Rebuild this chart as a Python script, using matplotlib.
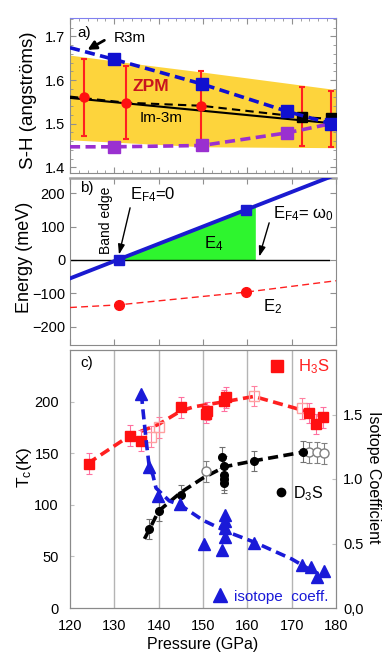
import matplotlib
matplotlib.use('Agg')
import matplotlib.pyplot as plt
import numpy as np
from matplotlib.lines import Line2D
from matplotlib.ticker import MultipleLocator

plt.rcParams['font.family'] = ['Liberation Sans', 'DejaVu Sans']
plt.rcParams['mathtext.fontset'] = 'custom'
plt.rcParams['mathtext.rm'] = 'Liberation Sans'
plt.rcParams['mathtext.it'] = 'Liberation Sans:italic'

# ---------------- Panel a data ----------------
band_p = [120, 135, 150, 180]
band_lo = [1.463, 1.455, 1.447, 1.445]
band_hi = [1.657, 1.637, 1.618, 1.578]

r3m_line_p = [120, 130, 149.7, 169, 178.9]
r3m_line_v = [1.674, 1.647, 1.591, 1.528, 1.500]
r3m_sq_p = [130, 149.7, 169, 178.9]
r3m_sq_v = [1.647, 1.591, 1.528, 1.500]

low_line_p = [120, 130, 149.7, 169, 178.9]
low_line_v = [1.447, 1.447, 1.450, 1.479, 1.500]
low_sq_p = [130, 149.7, 169]
low_sq_v = [1.447, 1.450, 1.479]

im3m_solid_p = [120, 180]
im3m_solid_v = [1.559, 1.500]
im3m_dash_p = [120, 132.7, 149.6, 172.3, 178.9]
im3m_dash_v = [1.562, 1.548, 1.541, 1.515, 1.511]
im3m_sq_p = [172.3, 178.9]
im3m_sq_v = [1.515, 1.512]

zpm_p = [123.2, 132.7, 149.6, 172.3, 178.9]
zpm_v = [1.560, 1.547, 1.540, 1.515, 1.510]
zpm_hi = [1.649, 1.631, 1.620, 1.583, 1.574]
zpm_lo = [1.471, 1.465, 1.450, 1.448, 1.446]
zpm_n_markers = 3

# ---------------- Panel b data ----------------
e4_line_p = [120, 180]
e4_line_e = [-55, 255]
e4_pts_p = [131, 159.7]
e4_pts_e = [0, 150]
e4_fill_p = [130.6, 161.8]
zero_p = [120, 178.5]
zero_e = [0, 0]
e2_line_p = [120, 131, 159.7, 180]
e2_line_e = [-142, -134, -96, -62]
e2_pts_p = [131, 159.7]
e2_pts_e = [-134, -96]

# ---------------- Panel c data ----------------
h3s_p = [124.2, 133.6, 136.1, 145.0, 150.6, 151.0, 154.8, 155.2, 174.0, 175.5, 177.0]
h3s_t = [140, 167, 162, 194.5, 188, 191, 201, 204, 189, 178.3, 184.8]
h3s_err = [10, 10, 10, 10, 9, 9, 10, 10, 10, 10, 10]
h3s_open_p = [138.3, 140.0, 161.6, 172.3]
h3s_open_t = [166, 175, 205.4, 193.5]
h3s_open_err = [10, 10, 10, 10]
h3s_line_p = [124, 133.5, 140, 145, 148, 155, 161.5, 170.5, 178.5]
h3s_line_t = [140, 167, 178, 191, 195, 200, 205, 194, 184]

d3s_p = [137.8, 140.0, 145.0, 154.3, 154.8, 154.8, 154.8, 154.8, 161.6, 172.6]
d3s_t = [76.5, 94.3, 109.5, 146, 137.6, 129, 124.7, 121.4, 142.4, 151.5]
d3s_err = [10, 10, 10, 10, 10, 10, 10, 10, 10, 10]
d3s_open_p = [150.6, 174.0, 175.7, 177.2]
d3s_open_t = [132.5, 150.9, 150.9, 150.0]
d3s_open_err = [10, 10, 10, 10]
d3s_line_p = [136.8, 138, 140, 145, 150, 155, 162, 172.5, 178.1]
d3s_line_t = [67, 77, 94, 112, 126, 137, 143, 151, 150]

iso_p = [136.1, 137.9, 139.8, 144.8, 150.2, 154.3, 154.9, 154.9, 154.9, 154.9,
         161.6, 172.3, 174.3, 175.7, 177.2]
iso_a = [1.66, 1.09, 0.87, 0.806, 0.50, 0.45, 0.548, 0.618, 0.677, 0.72,
         0.506, 0.333, 0.315, 0.238, 0.287]
iso_line_p = [136.1, 136.5, 137.3, 137.9, 138.7, 139.4, 142.4, 144.8, 150, 155.5,
              161.6, 170, 176]
iso_line_a = [1.66, 1.52, 1.26, 1.09, 1.03, 0.93, 0.83, 0.80, 0.68, 0.59,
              0.51, 0.38, 0.26]

p_ticks = [120, 130, 140, 150, 160, 170, 180]
tc_ticks = [0, 50, 100, 150, 200]
iso_ticks = [0.0, 0.5, 1.0, 1.5]
iso_ticklabels = ['0,0', '0.5', '1.0', '1.5']
grid_p = [130, 140, 150, 160, 170]

# ---------------- Figure ----------------
W, H = 382, 654
fig = plt.figure(figsize=(W / 100, H / 100), dpi=100)


def box(top, bottom, left=70, right=336):
    return [left / W, 1 - bottom / H, (right - left) / W, (bottom - top) / H]


spine_gray = '#8a8a8a'
axA = fig.add_axes(box(18, 173))
axB = fig.add_axes(box(178, 345))
axC = fig.add_axes(box(350, 608))

# ---- Panel a ----
ax = axA
ax.fill_between(band_p, band_lo, band_hi, color='#fdd43c', lw=0, zorder=0)
yerr = [np.array(zpm_v) - np.array(zpm_lo), np.array(zpm_hi) - np.array(zpm_v)]
ax.errorbar(zpm_p, zpm_v, yerr=yerr, fmt='none', ecolor='#ff2020', elinewidth=1.5,
            capsize=2.5, capthick=1.5, zorder=2)
ax.plot(im3m_solid_p, im3m_solid_v, color='black', lw=1.5, zorder=3)
ax.plot(im3m_dash_p, im3m_dash_v, color='black', lw=1.5, dashes=(4, 2.5), zorder=3)
ax.plot(zpm_p[:zpm_n_markers], zpm_v[:zpm_n_markers], 'o', color='#ff1010', ms=6.5, zorder=4)
ax.plot(low_line_p, low_line_v, color='#9a30d0', lw=2.6, dashes=(2.8, 1.5), zorder=3)
ax.plot(low_sq_p, low_sq_v, 's', color='#9a30d0', ms=8.5, zorder=4)
ax.plot(im3m_sq_p, im3m_sq_v, 's', color='black', ms=7.5, zorder=4)
ax.plot(r3m_line_p, r3m_line_v, color='#1010d0', lw=2.6, dashes=(2.8, 1.5), zorder=5)
ax.plot(r3m_sq_p, r3m_sq_v, 's', color='#1010d0', ms=8.5, zorder=6)
ax.set_xlim(120, 180)
ax.set_ylim(1.387, 1.742)
ax.set_yticks([1.4, 1.5, 1.6, 1.7])
ax.yaxis.set_minor_locator(MultipleLocator(0.02))
ax.set_xticks(p_ticks)
ax.xaxis.set_minor_locator(MultipleLocator(2))
ax.tick_params(which='both', direction='in', top=True, right=True, labelbottom=False,
               color='#909090', labelsize=10.5)
ax.tick_params(which='major', length=4)
ax.tick_params(which='minor', length=2)
for s in ax.spines.values():
    s.set_color(spine_gray)
ax.spines['top'].set_color('#8080f0')
ax.text(121.7, 1.708, 'a)', fontsize=11, va='center')
ax.text(129.8, 1.697, 'R3m', fontsize=11, va='center')
ax.annotate('', xy=(123.4, 1.666), xytext=(128.3, 1.694),
            arrowprops=dict(arrowstyle='-|>,head_length=0.5,head_width=0.25', color='black', lw=2))
ax.text(134.2, 1.585, 'ZPM', fontsize=12.5, fontweight='bold', color='#c8141e', va='center')
ax.text(135.7, 1.514, 'Im-3m', fontsize=11, va='center')
ax.set_ylabel('S-H (angströms)', fontsize=13.5, va='center')
ax.yaxis.set_label_coords(-0.155, 0.47)

# ---- Panel b ----
ax = axB
fx = np.linspace(e4_fill_p[0], e4_fill_p[1], 50)
ax.fill_between(fx, 0, np.interp(fx, e4_line_p, e4_line_e), color='#2ef52e', lw=0, zorder=1)
ax.plot(zero_p, zero_e, color='black', lw=1, zorder=2)
ax.plot(e4_line_p, e4_line_e, color='#1a1ad0', lw=2.8, zorder=3)
ax.plot(e4_pts_p, e4_pts_e, 's', color='#1a1ad0', ms=7.5, zorder=4)
ax.plot(e2_line_p, e2_line_e, color='#ff2020', lw=1, dashes=(5, 3), zorder=3)
ax.plot(e2_pts_p, e2_pts_e, 'o', color='#ff1010', ms=7, zorder=4)
ax.set_xlim(120, 180)
ax.set_ylim(-254, 245)
ax.set_yticks([-200, -100, 0, 100, 200])
ax.set_xticks(p_ticks)
ax.tick_params(direction='in', top=True, right=True, labelbottom=False,
               color='#909090', labelsize=10.5, length=4)
for s in ax.spines.values():
    s.set_color(spine_gray)
ax.spines['top'].set_linewidth(1.8)
ax.spines['top'].set_color('#a0a0a0')
ax.text(122.3, 214, 'b)', fontsize=11, va='center')
ax.text(128.1, 118, 'Band edge', fontsize=10, rotation=90, ha='center', va='center')
ax.text(133.5, 194, r'E$_\mathregular{F4}$=0', fontsize=12, va='center')
ax.annotate('', xy=(130.9, 8), xytext=(133.7, 164),
            arrowprops=dict(arrowstyle='-|>,head_length=0.6,head_width=0.2', color='black', lw=1))
ax.text(165.8, 139, r'E$_\mathregular{F4}$= ω$_\mathregular{0}$', fontsize=12, va='center')
ax.annotate('', xy=(162.5, 2), xytext=(165.1, 119),
            arrowprops=dict(arrowstyle='-|>,head_length=0.6,head_width=0.2', color='black', lw=1))
ax.text(150.2, 50, r'E$_\mathregular{4}$', fontsize=12, va='center')
ax.text(163.6, -139, r'E$_\mathregular{2}$', fontsize=12, va='center')
ax.set_ylabel('Energy (meV)', fontsize=13, va='center')
ax.yaxis.set_label_coords(-0.172, 0.527)

# ---- Panel c ----
ax = axC
ax2 = ax.twinx()
for g in grid_p:
    ax.axvline(g, color='#b4b4b4', lw=1, zorder=0)
ax.plot(h3s_line_p, h3s_line_t, color='#ff2020', lw=2.6, dashes=(2.8, 1.5), zorder=2)
ax.errorbar(h3s_open_p, h3s_open_t, yerr=h3s_open_err, fmt='s', mfc='none', mec='#ffa0a0',
            ms=7, ecolor='#ff80a0', elinewidth=0.8, capsize=2, capthick=0.8, zorder=3)
ax.errorbar(h3s_p, h3s_t, yerr=h3s_err, fmt='s', color='#ff1010', ms=7.5,
            ecolor='#ff70a0', elinewidth=0.8, capsize=2, capthick=0.8, zorder=4)
ax.plot(d3s_line_p, d3s_line_t, color='black', lw=2.6, dashes=(2.8, 1.5), zorder=2)
ax.errorbar(d3s_open_p, d3s_open_t, yerr=d3s_open_err, fmt='o', mfc='white', mec='#808080',
            ms=6.5, ecolor='#808080', elinewidth=0.8, capsize=2, capthick=0.8, zorder=3)
ax.errorbar(d3s_p, d3s_t, yerr=d3s_err, fmt='o', color='black', ms=5.5,
            ecolor='#707070', elinewidth=0.8, capsize=2, capthick=0.8, zorder=4)
ax.set_xlim(120, 180)
ax.set_ylim(0, 250)
ax.set_xticks(p_ticks)
ax.set_yticks(tc_ticks)
ax.tick_params(axis='y', direction='in', length=3, color='#c0c0c0', labelsize=10.5, pad=8)
ax.tick_params(axis='x', length=0, labelsize=10.5, pad=8)
for s in ax.spines.values():
    s.set_color(spine_gray)
ax.text(122.3, 237, 'c)', fontsize=11, va='center')
ax.set_ylabel(r'T$_\mathregular{c}$(K)', fontsize=12.5, va='center')
ax.yaxis.set_label_coords(-0.172, 0.547)
ax.set_xlabel('Pressure (GPa)', fontsize=11.5, va='center')
ax.xaxis.set_label_coords(0.5, -0.14)

ax2.plot(iso_line_p, iso_line_a, color='#1a1ad8', lw=2.6, dashes=(2.8, 1.5), zorder=2)
ax2.plot(iso_p, iso_a, '^', color='#1a1ad8', ms=9, zorder=3)
ax2.set_ylim(0, 2.0)
ax2.set_yticks(iso_ticks)
ax2.set_yticklabels(iso_ticklabels)
ax2.tick_params(axis='y', direction='in', length=3, color='#c0c0c0', labelsize=10.5, pad=5)
for s in ax2.spines.values():
    s.set_color(spine_gray)
ax2.set_ylabel('Isotope Coefficient', fontsize=11.5, rotation=270, va='center')
ax2.yaxis.set_label_coords(1.14, 0.508)

# legends
h_h3s = Line2D([], [], marker='s', ls='none', color='#ff1010', ms=8)
h_d3s = Line2D([], [], marker='o', ls='none', color='black', ms=6)
h_iso = Line2D([], [], marker='^', ls='none', color='#1a1ad8', ms=10)
common = dict(frameon=False, borderpad=0, borderaxespad=0, handlelength=1.0, loc='center left')
leg1 = ax2.legend([h_h3s], [r'H$_\mathregular{3}$S'], bbox_to_anchor=(0.746, 0.935),
                  handletextpad=0.8, fontsize=12, labelcolor='#ff2020', **common)
ax2.add_artist(leg1)
leg2 = ax2.legend([h_d3s], [r'D$_\mathregular{3}$S'], bbox_to_anchor=(0.765, 0.4446),
                  handletextpad=0.2, fontsize=11.5, labelcolor='black', **common)
ax2.add_artist(leg2)
leg3 = ax2.legend([h_iso], ['isotope  coeff.'], bbox_to_anchor=(0.535, 0.044),
                  handletextpad=0.45, fontsize=11, labelcolor='#1a1ad8', **common)

fig.savefig('out.png', dpi=100)
